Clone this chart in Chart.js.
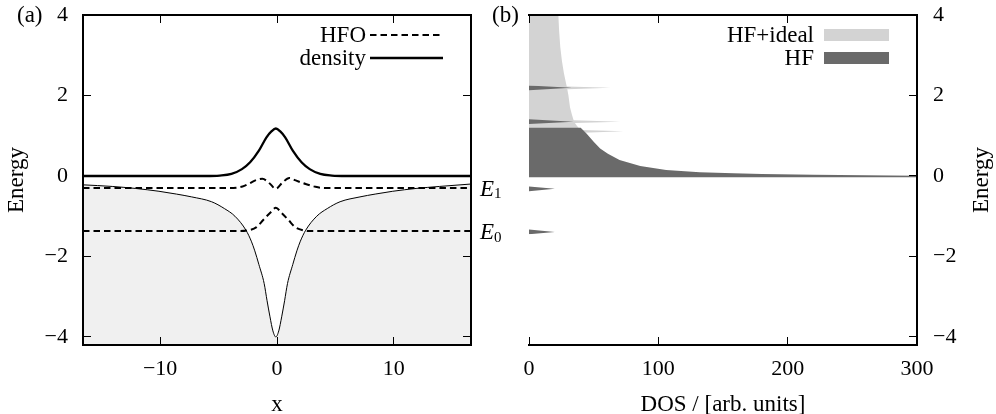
<!DOCTYPE html>
<html>
<head>
<meta charset="utf-8">
<script src="https://cdn.jsdelivr.net/npm/chart.js@4.4.0/dist/chart.umd.min.js"></script>
<style>
  html, body { margin: 0; padding: 0; background: #fff; }
  #wrap { position: relative; width: 996px; height: 414px; overflow: hidden; }
  #wrap canvas { position: absolute; top: 0; }
  #chartA { left: 0; }
  #chartB { left: 486px; }
</style>
</head>
<body>
<div id="wrap">
  <canvas id="chartA" width="505" height="414"></canvas>
  <canvas id="chartB" width="510" height="414"></canvas>
</div>
<script>
// panel (a): potential, density and the two HF orbitals along x
const xPot = [-16.6, -14.1, -12.1, -10.1, -8.6, -7.3, -5.6, -4.5, -3.6, -2.65, -2.2, -1.9, -1.55, -1.1, -0.85, -0.6, -0.35, -0.1, 0.15, 0.4, 0.65, 0.9, 1.35, 1.7, 2.0, 2.45, 3.4, 4.3, 5.4, 7.1, 8.4, 9.9, 11.9, 13.9, 16.6];
const vPot = [-0.22, -0.26, -0.31, -0.38, -0.45, -0.52, -0.64, -0.81, -1.0, -1.35, -1.62, -1.86, -2.2, -2.67, -3.1, -3.5, -3.85, -4.0, -3.85, -3.5, -3.1, -2.67, -2.2, -1.86, -1.62, -1.35, -1.0, -0.81, -0.64, -0.52, -0.45, -0.38, -0.31, -0.26, -0.2];

const xDen = [-16.6, -6.1, -4.9, -3.9, -3.0, -2.3, -1.55, -0.9, -0.5, -0.1, 0.3, 0.7, 1.35, 2.1, 2.8, 3.7, 4.7, 5.9, 16.6];
const nDen = [0, 0, 0.01, 0.05, 0.17, 0.34, 0.63, 0.96, 1.1, 1.18, 1.1, 0.96, 0.63, 0.34, 0.17, 0.05, 0.01, 0, 0];

const xOrb1 = [-16.6, -4.1, -2.95, -2.4, -1.85, -1.25, -0.65, -0.1, 0.45, 1.05, 1.6, 2.45, 3.3, 4.1, 16.6];
const eOrb1 = [-0.30, -0.30, -0.26, -0.19, -0.11, -0.07, -0.18, -0.32, -0.17, -0.05, -0.11, -0.20, -0.27, -0.30, -0.30];

const xOrb0 = [-16.6, -3.2, -2.45, -1.75, -1.2, -0.6, -0.1, 0.4, 1.0, 1.55, 2.25, 3.0, 16.6];
const eOrb0 = [-1.37, -1.37, -1.35, -1.27, -1.1, -0.92, -0.79, -0.92, -1.1, -1.27, -1.35, -1.37, -1.37];

const xTicksA = [-10, 0, 10];
const eTicks = [-4, -2, 0, 2, 4];

// panel (b): density of states, listed from the top energy down
const eIdeal = [4.0, 3.6, 3.2, 2.85, 2.55, 2.32, 2.225, 2.19, 2.155, 2.0, 1.71, 1.52, 1.385, 1.35, 1.315, 1.25, 1.19, 1.145, 1.11, 1.075, 1.05, 1.0];
const dosIdeal = [22.7, 23.3, 24.2, 25.5, 27.0, 28.5, 29.2, 63, 29.6, 30.5, 31.7, 33.2, 34.5, 70.5, 35.5, 37, 38.5, 40, 73, 42, 44.6, 0];

const eHF = [2.25, 2.19, 2.13, 1.41, 1.35, 1.29, 1.2, 1.2, 1.05, 0.85, 0.68, 0.55, 0.40, 0.25, 0.15, 0.095, 0.065, 0.05, 0.03, 0.017, 0.008, -0.03, -0.03, -0.26, -0.32, -0.38, -1.33, -1.39, -1.45];
const dosHF = [0, 33, 0, 0, 34.5, 0, 0, 40, 44.6, 50, 55, 61, 70, 86, 106, 132, 158, 180, 220, 260, 300, 300, 0, 0, 20, 0, 0, 20, 0];

const dosTicks = [0, 100, 200, 300];

const serif = '"Liberation Serif", "DejaVu Serif", serif';
Chart.defaults.font.family = serif;
Chart.defaults.font.size = 22;
Chart.defaults.color = '#000';

const pts = (xs, ys) => xs.map((x, i) => ({ x, y: ys[i] }));
const minus = v => String(v).replace('-', '\u2212');

// fixed axis box size, no extra label padding pushed into the layout
const fixSize = (w, h) => s => {
  if (w !== null) s.width = w;
  if (h !== null) s.height = h;
  s.paddingTop = s.paddingBottom = s.paddingLeft = s.paddingRight = 0;
};

// one side of the frame: inward ticks, black border
function side(position, min, max, ticks, opts) {
  return Object.assign({
    type: 'linear', position, min, max,
    afterBuildTicks: s => { s.ticks = ticks.map(v => ({ value: v })); },
    grid: { drawOnChartArea: false, tickLength: -8, color: '#000', lineWidth: 1, z: 1 },
    border: { color: '#000', width: 2, z: 1 },
    ticks: { display: false }
  }, opts);
}

// panel tag, legend, level labels, right axis title
const extras = {
  id: 'extras',
  afterDraw(chart, args, o) {
    const ctx = chart.ctx;
    ctx.save();
    ctx.fillStyle = '#000';
    ctx.textBaseline = 'middle';
    ctx.font = `23px ${serif}`;
    ctx.textAlign = 'left';
    ctx.fillText(o.tag, o.tagX, 16);

    const items = chart.data.datasets.filter(d => d.legendRow !== undefined)
      .sort((a, b) => a.legendRow - b.legendRow);
    items.forEach((d, i) => {
      const y = 35 + i * 23;
      ctx.fillStyle = '#000';
      ctx.textAlign = 'right';
      ctx.fillText(d.label, o.legendX, y + 1);
      if (d.fill) {
        ctx.fillStyle = d.backgroundColor;
        ctx.fillRect(o.legendX + 10, y - 6, 65, 12);
      } else {
        ctx.strokeStyle = '#000';
        ctx.lineWidth = d.borderWidth;
        ctx.setLineDash(d.borderDash || []);
        ctx.beginPath();
        ctx.moveTo(o.legendX + 4, y);
        ctx.lineTo(o.legendX + 77, y);
        ctx.stroke();
        ctx.setLineDash([]);
      }
    });

    ctx.fillStyle = '#000';
    if (o.levels) {
      const ys = chart.scales.y;
      ctx.textAlign = 'left';
      o.levels.forEach(l => {
        const y = ys.getPixelForValue(l.value) + 1.5;
        ctx.font = `italic 23px ${serif}`;
        ctx.fillText('E', 480, y);
        ctx.font = `15px ${serif}`;
        ctx.fillText(l.sub, 494, y + 5);
      });
    }

    if (o.rightTitle) {
      ctx.font = `23px ${serif}`;
      ctx.textAlign = 'center';
      ctx.translate(o.rightTitleX, 180);
      ctx.rotate(-Math.PI / 2);
      ctx.fillText(o.rightTitle, 0, 0);
    }
    ctx.restore();
  }
};

const xMinA = -16.6, xMaxA = 16.6, eMin = -4.2, eMax = 4;

new Chart(document.getElementById('chartA'), {
  type: 'line',
  data: {
    datasets: [
      { label: 'density', legendRow: 1, data: pts(xDen, nDen), borderColor: '#000', borderWidth: 2.3,
        cubicInterpolationMode: 'monotone', pointRadius: 0, fill: false },
      { label: 'HFO', legendRow: 0, data: pts(xOrb1, eOrb1), borderColor: '#000', borderWidth: 2,
        borderDash: [6.5, 4], cubicInterpolationMode: 'monotone', pointRadius: 0, fill: false },
      { label: 'HFO E0', data: pts(xOrb0, eOrb0), borderColor: '#000', borderWidth: 2,
        borderDash: [6.5, 4], cubicInterpolationMode: 'monotone', pointRadius: 0, fill: false },
      { label: 'potential', data: pts(xPot, vPot), borderColor: '#000', borderWidth: 1,
        cubicInterpolationMode: 'monotone', pointRadius: 0, fill: 'start', backgroundColor: '#f0f0f0' }
    ]
  },
  options: {
    responsive: false,
    animation: false,
    events: [],
    layout: { padding: { left: 0, right: 34, top: 15, bottom: 0 } },
    plugins: {
      legend: { display: false },
      tooltip: { enabled: false },
      extras: { tag: '(a)', tagX: 17, legendX: 366,
        levels: [{ sub: '1', value: eOrb1[0] }, { sub: '0', value: eOrb0[0] }] }
    },
    scales: {
      x: side('bottom', xMinA, xMaxA, xTicksA, {
        afterFit: fixSize(null, 69),
        ticks: { padding: 19, maxRotation: 0, callback: minus },
        title: { display: true, text: 'x', font: { size: 23, lineHeight: 0.8 }, padding: 0 }
      }),
      xTop: side('top', xMinA, xMaxA, xTicksA, { afterFit: fixSize(null, 0) }),
      y: side('left', eMin, eMax, eTicks, {
        afterFit: fixSize(83, null),
        ticks: { padding: 23, callback: minus },
        title: { display: true, text: 'Energy', font: { size: 23 }, padding: { top: 3, bottom: 0 } }
      }),
      yRight: side('right', eMin, eMax, eTicks, { afterFit: fixSize(0, null) })
    }
  },
  plugins: [extras]
});

new Chart(document.getElementById('chartB'), {
  type: 'line',
  data: {
    datasets: [
      { label: 'HF', legendRow: 1, data: pts(dosHF, eHF), borderWidth: 0, borderColor: 'rgba(0,0,0,0)',
        backgroundColor: '#6a6a6a', fill: 'origin', pointRadius: 0, tension: 0 },
      { label: 'HF+ideal', legendRow: 0, data: pts(dosIdeal, eIdeal), borderWidth: 0, borderColor: 'rgba(0,0,0,0)',
        backgroundColor: '#d3d3d3', fill: 'origin', pointRadius: 0, tension: 0 }
    ]
  },
  options: {
    indexAxis: 'y',
    responsive: false,
    animation: false,
    events: [],
    layout: { padding: { left: 43, right: 0, top: 15, bottom: 0 } },
    plugins: {
      legend: { display: false },
      tooltip: { enabled: false },
      extras: { tag: '(b)', tagX: 6, legendX: 328, rightTitle: 'Energy', rightTitleX: 496 }
    },
    scales: {
      x: side('bottom', 0, 300, dosTicks, {
        afterFit: fixSize(null, 69),
        ticks: { padding: 19, maxRotation: 0, callback: minus },
        title: { display: true, text: 'DOS / [arb. units]', font: { size: 23, lineHeight: 0.8 }, padding: 0 }
      }),
      xTop: side('top', 0, 300, dosTicks, { afterFit: fixSize(null, 0) }),
      y: side('right', eMin, eMax, eTicks, {
        afterFit: fixSize(79, null),
        ticks: { padding: 24, callback: minus }
      })
    }
  },
  plugins: [extras]
});
</script>
</body>
</html>
